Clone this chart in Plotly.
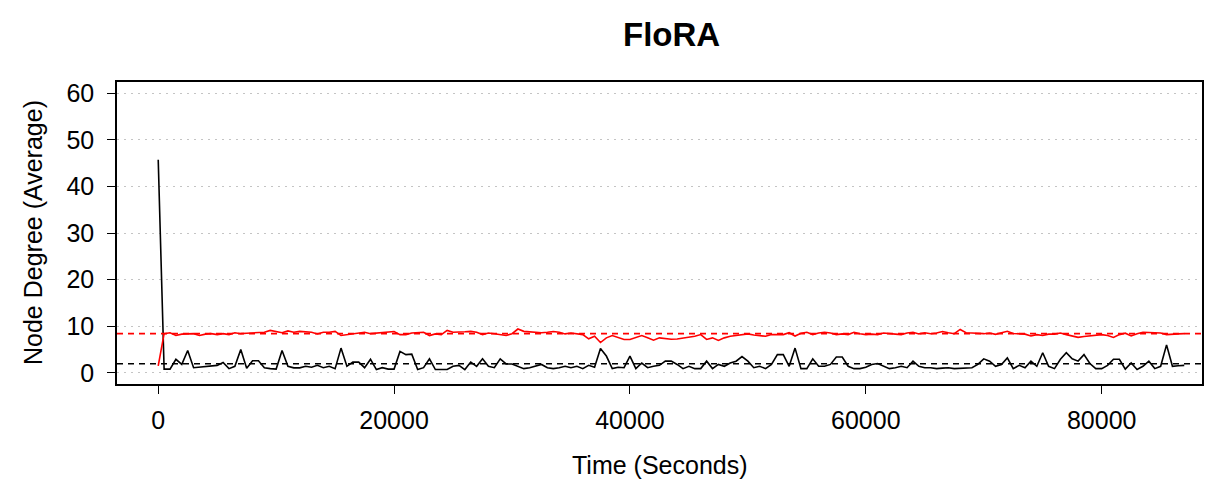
import plotly.graph_objects as go

# ---- data ----
sample_interval = 500  # seconds between samples

black_degree = [
    45.7, 0.8, 0.8, 2.9, 1.8, 4.8, 1.1, 1.2, 1.4, 1.4,
    1.6, 2.2, 0.9, 1.4, 5.0, 1.0, 2.6, 2.6, 1.1, 0.9,
    0.8, 4.8, 1.4, 1.07, 1.07, 1.4, 1.2, 1.6, 1.1, 1.4,
    0.9, 5.3, 1.4, 2.3, 2.3, 1.1, 2.9, 0.7, 1.1, 0.8,
    0.8, 4.6, 3.9, 4.0, 0.7, 1.1, 3.0, 0.7, 0.7, 0.7,
    1.4, 1.6, 0.7, 2.3, 1.4, 3.0, 1.4, 1.1, 3.0, 1.9,
    1.9, 1.4, 0.9, 1.1, 1.4, 1.8, 1.1, 0.9, 1.1, 1.4,
    1.1, 1.4, 0.9, 1.6, 1.2, 5.2, 3.6, 0.9, 1.2, 1.1,
    3.6, 0.9, 2.1, 1.1, 1.4, 1.6, 2.5, 2.5, 1.8, 0.9,
    1.4, 0.9, 0.9, 2.5, 0.9, 1.8, 1.4, 2.1, 2.5, 3.5,
    2.5, 1.1, 1.4, 0.9, 1.8, 3.9, 3.9, 1.4, 5.3, 0.9,
    0.9, 3.0, 1.4, 1.4, 1.8, 3.4, 3.4, 1.4, 0.9, 0.9,
    1.2, 1.8, 2.0, 1.4, 0.9, 1.1, 1.4, 1.1, 2.5, 1.4,
    1.1, 1.1, 0.9, 1.0, 1.1, 0.9, 1.0, 1.1, 1.1, 1.8,
    3.0, 2.5, 1.4, 1.8, 3.2, 0.9, 1.6, 1.1, 2.5, 1.4,
    4.3, 1.4, 0.9, 2.9, 4.3, 3.0, 2.5, 3.9, 2.0, 0.9,
    0.9, 1.6, 2.9, 2.9, 0.8, 2.1, 0.7, 1.4, 2.5, 0.9,
    1.4, 6.0, 1.4, 1.5, 1.6,
]

red_degree = [
    1.5, 8.4, 8.6, 8.0, 8.3, 8.35, 8.4, 8.0, 8.3, 8.4,
    8.2, 8.4, 8.2, 8.6, 8.4, 8.5, 8.6, 8.6, 8.7, 9.1,
    8.9, 8.6, 9.0, 8.7, 8.9, 8.8, 8.7, 8.35, 8.7, 8.7,
    8.9, 8.0, 8.2, 8.35, 8.6, 8.7, 8.4, 8.5, 8.55, 8.6,
    8.85, 8.2, 8.2, 8.55, 8.6, 8.7, 8.0, 8.35, 8.2, 9.1,
    8.7, 8.7, 8.8, 8.9, 8.7, 8.2, 8.55, 8.4, 8.2, 8.0,
    8.4, 9.4, 8.9, 8.8, 8.6, 8.6, 8.7, 8.85, 8.7, 8.35,
    8.55, 8.4, 8.2, 7.3, 7.85, 6.5, 7.5, 8.0, 7.5, 7.15,
    7.15, 7.5, 8.0, 7.5, 7.0, 7.5, 7.3, 7.2, 7.25, 7.4,
    7.6, 7.85, 8.2, 7.15, 7.5, 6.95, 7.5, 7.85, 8.0, 8.2,
    8.35, 8.1, 7.9, 7.85, 8.2, 8.2, 8.2, 8.6, 7.9, 8.5,
    8.7, 8.2, 8.55, 8.7, 8.55, 8.2, 8.35, 8.2, 8.7, 8.4,
    8.2, 8.3, 8.2, 8.55, 8.35, 8.3, 8.2, 8.55, 8.7, 8.35,
    8.6, 8.4, 8.55, 8.85, 8.6, 8.4, 9.3, 8.6, 8.55, 8.45,
    8.4, 8.55, 8.25, 8.6, 8.9, 8.45, 8.4, 8.3, 7.9, 8.2,
    8.0, 8.3, 8.3, 8.55, 8.2, 7.9, 7.6, 7.8, 7.9, 8.0,
    8.2, 8.0, 7.6, 8.2, 8.5, 7.9, 8.4, 8.7, 8.7, 8.7,
    8.55, 8.2, 8.35, 8.35, 8.4,
]

black_mean = 1.95
red_mean = 8.4

x_ticks = [0, 20000, 40000, 60000, 80000]
x_tick_labels = ["0", "20000", "40000", "60000", "80000"]
y_ticks = [0, 10, 20, 30, 40, 50, 60]
y_tick_labels = ["0", "10", "20", "30", "40", "50", "60"]

title_text = "FloRA"
x_title = "Time (Seconds)"
y_title = "Node Degree (Average)"

times_black = [i * sample_interval for i in range(len(black_degree))]
times_red = [i * sample_interval for i in range(len(red_degree))]

FONT = "Liberation Sans, Arial, Helvetica, sans-serif"

fig = go.Figure()
fig.add_trace(go.Scatter(x=times_black, y=black_degree, mode="lines",
                         line=dict(color="black", width=1.6), hoverinfo="skip"))
fig.add_trace(go.Scatter(x=times_red, y=red_degree, mode="lines",
                         line=dict(color="#ff0000", width=1.6), hoverinfo="skip"))

# mean reference lines across the whole plotting region
fig.add_shape(type="line", xref="paper", yref="y", x0=0, x1=1, y0=red_mean, y1=red_mean,
              line=dict(color="#ff0000", width=1.6, dash="6px,5px"), layer="above")
fig.add_shape(type="line", xref="paper", yref="y", x0=0, x1=1, y0=black_mean, y1=black_mean,
              line=dict(color="black", width=1.6, dash="6px,5px"), layer="above")

fig.update_layout(
    width=1206, height=480,
    autosize=False,
    margin=dict(l=117, r=2, t=82, b=96),
    paper_bgcolor="white", plot_bgcolor="white",
    showlegend=False,
    font=dict(family=FONT, color="black", size=25),
    xaxis=dict(
        range=[-3495, 88506], tickmode="array", tickvals=x_ticks, ticktext=x_tick_labels,
        ticks="outside", ticklen=8, tickwidth=1.3, tickcolor="black",
        showline=True, linecolor="black", linewidth=1.6, mirror=True,
        showgrid=False, zeroline=False, tickfont=dict(size=25, family=FONT),
        ticklabelstandoff=5,
    ),
    yaxis=dict(
        range=[-2.4, 62.4], tickmode="array", tickvals=y_ticks, ticktext=y_tick_labels,
        ticks="outside", ticklen=8, tickwidth=1.3, tickcolor="black",
        showline=True, linecolor="black", linewidth=1.6, mirror=True,
        showgrid=True, gridcolor="#c4c4c4", gridwidth=1.2, griddash="2px,5px",
        zeroline=False, tickfont=dict(size=25, family=FONT),
        ticklabelstandoff=8,
    ),
    annotations=[
        dict(text="<b>" + title_text + "</b>", xref="paper", yref="paper",
             x=0.511, y=1, yshift=48, xanchor="center", yanchor="middle",
             showarrow=False, font=dict(size=33, family=FONT, color="black")),
        dict(text=x_title, xref="paper", yref="paper", x=0.5, y=0, yshift=-81,
             xanchor="center", yanchor="middle", showarrow=False,
             font=dict(size=25, family=FONT, color="black")),
        dict(text=y_title, xref="paper", yref="paper", x=0, y=0.5, xshift=-84,
             xanchor="center", yanchor="middle", textangle=-90, showarrow=False,
             font=dict(size=25, family=FONT, color="black")),
    ],
)

post = ("document.documentElement.style.margin='0';"
        "document.body.style.margin='0';"
        "document.body.style.padding='0';"
        "document.body.style.overflow='hidden';")

fig.write_html("out.html", post_script=post,
               config={"responsive": False, "displayModeBar": False})
